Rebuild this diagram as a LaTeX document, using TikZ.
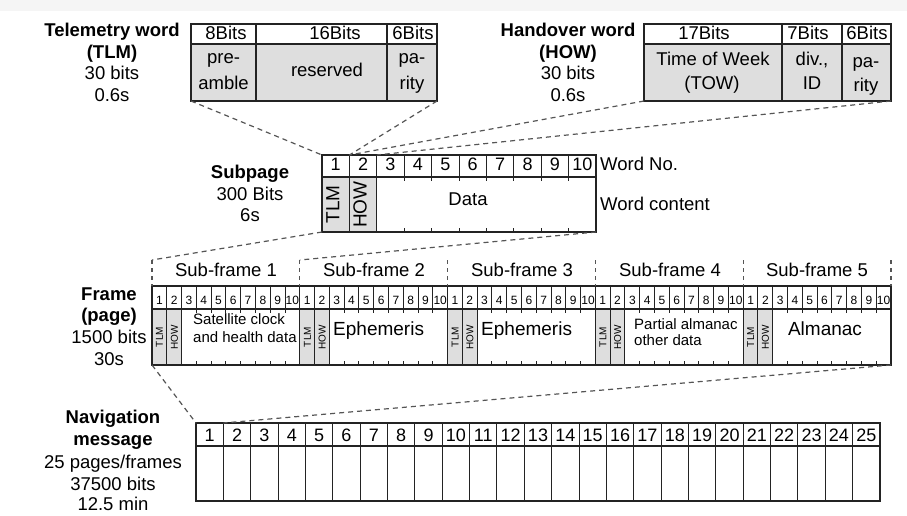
\documentclass[tikz,border=0pt]{standalone}
\usepackage{fontspec}
\setmainfont{Liberation Sans}
\definecolor{cellgray}{RGB}{222,222,222}
\definecolor{linec}{RGB}{35,35,35}
\definecolor{dashc}{RGB}{85,85,85}
\begin{document}
\begin{tikzpicture}[x=1pt,y=-1pt,
  lbl/.style={inner sep=0pt, text height=0.72em, text depth=0pt, font=\fontsize{18.5}{22}\selectfont},
  blbl/.style={lbl, font=\fontsize{18.5}{22}\selectfont\bfseries},
  midlbl/.style={lbl, font=\fontsize{15}{18}\selectfont},
  biglbl/.style={lbl, font=\fontsize{19}{22}\selectfont},
  numsp/.style={lbl, font=\fontsize{18}{22}\selectfont},
  numnv/.style={lbl, font=\fontsize{18}{20}\selectfont},
  numfr/.style={lbl, font=\fontsize{12}{14}\selectfont},
  rotsp/.style={lbl, rotate=90, font=\fontsize{19}{22}\selectfont},
  rotfr/.style={lbl, rotate=90, font=\fontsize{10}{12}\selectfont},
  boxline/.style={draw=linec, line width=1.2pt},
  inline/.style={draw=linec, line width=1pt},
  conn/.style={draw=dashc, line width=1.2pt, dash pattern=on 5pt off 4pt},
  sfsep/.style={draw=dashc, line width=1.1pt, dash pattern=on 4pt off 4pt}]
\useasboundingbox (0,0) rectangle (907,516);
\fill[black!4] (0,0) rectangle (907,11);

% ---------------- TLM word ----------------
\fill[cellgray] (191,44) rectangle (437,101);
\draw[boxline] (191,24) rectangle (437,101);
\draw[boxline] (191,44) -- (437,44) (256,24) -- (256,101) (387,24) -- (387,101);
\coordinate (tlmBL) at (191,101);
\coordinate (tlmBR) at (437,101);
\node[blbl] (tlmA) at (112,33) {Telemetry word};
\node[blbl] (tlmB) at (112,55) {(TLM)};
\node[lbl]  (tlmC) at (112,76) {30 bits};
\node[lbl]  (tlmD) at (112,98) {0.6s};
\node[lbl] (tlmH1) at (226,35.5) {8Bits};
\node[lbl] (tlmH2) at (335,35.5) {16Bits};
\node[lbl] (tlmH3) at (413,35.5) {6Bits};
\node[lbl] (tlmP1) at (223.5,60) {pre-};
\node[lbl] (tlmP2) at (223.5,86) {amble};
\node[lbl] (tlmR)  at (327,73) {reserved};
\node[lbl] (tlmQ1) at (412,60) {pa-};
\node[lbl] (tlmQ2) at (412,86) {rity};

% ---------------- HOW word ----------------
\fill[cellgray] (644,44) rectangle (891,101);
\draw[boxline] (644,24) rectangle (891,101);
\draw[boxline] (644,44) -- (891,44) (782,24) -- (782,101) (842,24) -- (842,101);
\coordinate (howBL) at (644,101);
\coordinate (howBR) at (891,101);
\node[blbl] (howA) at (568,33) {Handover word};
\node[blbl] (howB) at (568,55) {(HOW)};
\node[lbl]  (howC) at (568,76) {30 bits};
\node[lbl]  (howD) at (568,98) {0.6s};
\node[lbl] (howH1) at (704,35.5) {17Bits};
\node[lbl] (howH2) at (808,35.5) {7Bits};
\node[lbl] (howH3) at (867,35.5) {6Bits};
\node[lbl] (howT1) at (713,62) {Time of Week};
\node[lbl] (howT2) at (712,86) {(TOW)};
\node[lbl] (howI1) at (812,62) {div.,};
\node[lbl] (howI2) at (812,86) {ID};
\node[lbl] (howQ1) at (866,64) {pa-};
\node[lbl] (howQ2) at (866,88) {rity};

% ---------------- Subpage ----------------
\def\spx{322}\def\spw{27.4}
\fill[cellgray] (322,177) rectangle (376.8,232);
\draw[boxline] (322,155) rectangle (596,232);
\draw[boxline] (322,177) -- (596,177);
\foreach \i in {1,...,9} {
  \draw[inline] ({\spx+\spw*\i},155) -- ({\spx+\spw*\i},177);
}
\draw[inline] (349.4,177) -- (349.4,232) (376.8,177) -- (376.8,232);
\foreach \i in {3,...,9} {
  \draw[inline] ({\spx+\spw*\i},177) -- ({\spx+\spw*\i},181)
                ({\spx+\spw*\i},228) -- ({\spx+\spw*\i},232);
}
\foreach \i in {1,...,10} {
  \node[numsp] (spn\i) at ({\spx+\spw*(\i-0.5)},167) {\i};
}
\node[rotsp] (spTLM) at (335.7,204.5) {TLM};
\node[rotsp] (spHOW) at (363.1,204.5) {HOW};
\node[lbl] (spData) at (468,202) {Data};
\node[lbl, anchor=west] (spWN) at (600,167) {Word No.};
\node[lbl, anchor=west] (spWC) at (600,207) {Word content};
\node[blbl] (spA) at (250,175) {Subpage};
\node[lbl]  (spB) at (250,197) {300 Bits};
\node[lbl]  (spC) at (250,218) {6s};
\coordinate (sp1TL) at (322,155);
\coordinate (sp2TL) at (349.4,155);
\coordinate (sp2TR) at (376.8,155);
\coordinate (spBL) at (322,232);
\coordinate (spBR) at (596,232);

% ---------------- Frame ----------------
\def\frx{152}\def\frs{147.8}\def\frw{14.78}
\foreach \s in {0,...,4} {
  \fill[cellgray] ({\frx+\frs*\s},309) rectangle ({\frx+\frs*\s+2*\frw},365);
}
\draw[boxline] (152,286) rectangle (891,365);
\draw[boxline] (152,309) -- (891,309);
\foreach \s in {0,...,5} {
  \draw[sfsep] ({\frx+\frs*\s},260) -- ({\frx+\frs*\s},286);
}
\foreach \s in {1,...,4} {
  \draw[boxline] ({\frx+\frs*\s},286) -- ({\frx+\frs*\s},365);
}
\foreach \s in {0,...,4} {
  \foreach \i in {1,...,9} {
    \draw[inline] ({\frx+\frs*\s+\frw*\i},286) -- ({\frx+\frs*\s+\frw*\i},309);
  }
  \draw[inline] ({\frx+\frs*\s+\frw},309) -- ({\frx+\frs*\s+\frw},365)
                ({\frx+\frs*\s+2*\frw},309) -- ({\frx+\frs*\s+2*\frw},365);
  \foreach \i in {3,...,9} {
    \draw[inline] ({\frx+\frs*\s+\frw*\i},309) -- ({\frx+\frs*\s+\frw*\i},313)
                  ({\frx+\frs*\s+\frw*\i},361) -- ({\frx+\frs*\s+\frw*\i},365);
  }
  \foreach \i in {1,...,10} {
    \node[numfr] (frn\s-\i) at ({\frx+\frs*\s+\frw*(\i-0.5)},300.5) {\i};
  }
  \node[rotfr] (frTLM\s) at ({\frx+\frs*\s+0.5*\frw},337) {TLM};
  \node[rotfr] (frHOW\s) at ({\frx+\frs*\s+1.5*\frw},337) {HOW};
}
\node[lbl] (sf1) at (226,273) {Sub-frame 1};
\node[lbl] (sf2) at (374,273) {Sub-frame 2};
\node[lbl] (sf3) at (522,273) {Sub-frame 3};
\node[lbl] (sf4) at (670,273) {Sub-frame 4};
\node[lbl] (sf5) at (817,273) {Sub-frame 5};
\node[midlbl, anchor=west] (sfc1a) at (193,321) {Satellite clock};
\node[midlbl, anchor=west] (sfc1b) at (193,339) {and health data};
\node[biglbl, anchor=west] (sfc2) at (333,332) {Ephemeris};
\node[biglbl, anchor=west] (sfc3) at (481,332) {Ephemeris};
\node[midlbl, anchor=west] (sfc4a) at (634,326) {Partial almanac};
\node[midlbl, anchor=west] (sfc4b) at (634,342) {other data};
\node[biglbl] (sfc5) at (825,332) {Almanac};
\node[blbl] (frA) at (109,297) {Frame};
\node[blbl] (frB) at (109,318) {(page)};
\node[lbl]  (frC) at (109,340) {1500 bits};
\node[lbl]  (frD) at (109,362) {30s};
\coordinate (frTL) at (152,260);
\coordinate (sf1TR) at (299.8,260);
\coordinate (frBL) at (152,365);
\coordinate (frBR) at (891,365);

% ---------------- Navigation message ----------------
\def\nvx{196}\def\nvw{27.36}
\draw[boxline] (196,423) rectangle (880,501);
\draw[boxline] (196,446) -- (880,446);
\foreach \i in {1,...,24} {
  \draw[inline] ({\nvx+\nvw*\i},423) -- ({\nvx+\nvw*\i},501);
}
\foreach \i in {1,...,25} {
  \node[numnv] (nvn\i) at ({\nvx+\nvw*(\i-0.5)},437.5) {\i};
}
\node[blbl] (nvA) at (113,420) {Navigation};
\node[blbl] (nvB) at (113,442) {message};
\node[lbl]  (nvC) at (113,465) {25 pages/frames};
\node[lbl]  (nvD) at (113,487) {37500 bits};
\node[lbl]  (nvE) at (113,507) {12.5 min};
\coordinate (nvTL) at (196,423);
\coordinate (nv1TR) at (223.36,423);

% ---------------- Connectors ----------------
\draw[conn] (tlmBL) -- (sp1TL);
\draw[conn] (tlmBR) -- (sp2TL);
\draw[conn] (howBL) -- (sp2TL);
\draw[conn] (howBR) -- (sp2TR);
\draw[conn] (spBL) -- (frTL);
\draw[conn] (spBR) -- (sf1TR);
\draw[conn] (frBL) -- (nvTL);
\draw[conn] (frBR) -- (nv1TR);
\end{tikzpicture}
\end{document}
